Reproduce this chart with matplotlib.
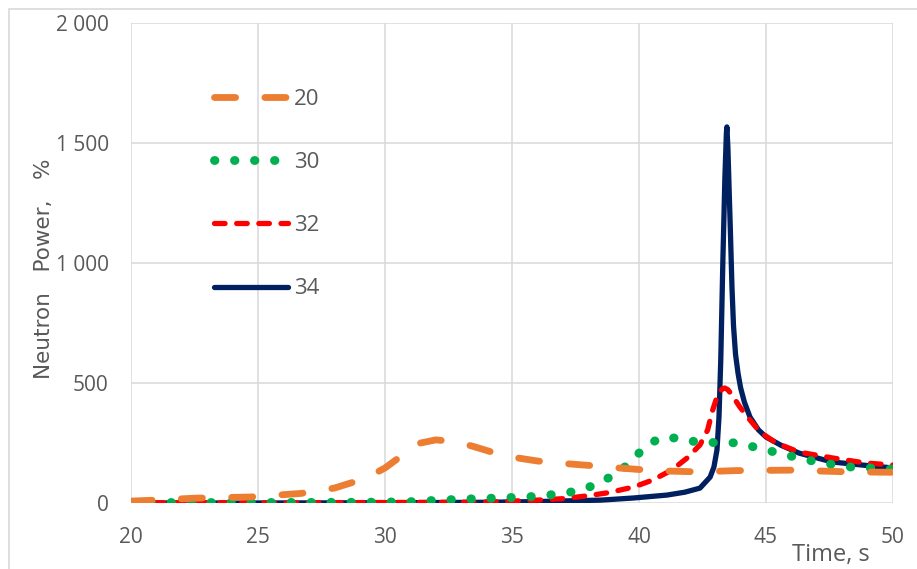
import matplotlib
matplotlib.use("Agg")
import matplotlib.pyplot as plt
from matplotlib.patches import Rectangle

# series "20" (orange, long dash)
t20 = [20, 21, 22.5, 24.7, 26.7, 28.0, 28.7, 29.4, 30.0, 30.5, 30.9, 31.4, 32.0, 32.8, 33.5, 34.4,
       35.2, 36.0, 37.0, 38.1, 39.2, 40.2, 41.2, 42.2, 43.0, 43.8, 45.0, 46.1, 47.2, 48.2, 49.0, 50]
p20 = [8, 12, 20, 25, 40, 62, 85, 112, 146, 185, 221, 250, 263, 255, 235, 206,
       188, 175, 165, 156, 146, 138, 133, 130, 132, 135, 136, 137, 133, 130, 129, 128]

# series "30" (green, dots)
t30 = [20, 25, 29, 30.9, 31.6, 32.6, 33.3, 34.2, 35.0, 35.8, 36.6, 37.4, 38.2, 38.9, 39.6, 40.15,
       40.8, 41.6, 42.4, 43.2, 43.9, 44.7, 45.5, 46.3, 47.0, 47.8, 48.6, 49.4, 50]
p30 = [2, 2, 3, 5, 9, 14, 17, 20, 23, 27, 35, 47, 72, 110, 162, 225,
       271, 271, 250, 253, 250, 229, 208, 187, 171, 158, 146, 146, 140]

# series "32" (red, short dash)
t32 = [20, 25, 30, 33, 34.2, 35.0, 36.0, 37.0, 37.9, 38.8, 39.8, 40.55, 41.3, 41.9, 42.4, 42.7,
       42.9, 43.07, 43.2, 43.3, 43.38, 43.5, 43.66, 43.97, 44.37, 44.76, 45.4, 46.3, 47.6, 48.9, 50]
p32 = [1, 1, 2, 3, 5, 8, 12, 18, 29, 43, 67, 96, 138, 188, 242, 304,
       387, 442, 466, 477, 479, 472, 450, 400, 346, 296, 250, 212, 188, 167, 158]

# series "34" (navy, solid)
t34 = [20, 25, 30, 34, 36, 38.5, 39.8, 41.1, 41.8, 42.4, 42.8, 42.95, 43.07, 43.15, 43.22, 43.3,
       43.38, 43.44, 43.46, 43.5, 43.55, 43.6, 43.66, 43.72, 43.8, 43.9, 44.0, 44.15, 44.37, 44.7,
       45.0, 45.6, 46.3, 47.0, 47.6, 48.8, 50]
p34 = [0, 0, 1, 3, 6, 12, 21, 33, 45, 62, 108, 150, 221, 360, 600, 1000,
       1350, 1540, 1567, 1480, 1300, 1125, 900, 740, 620, 540, 480, 420, 358, 305,
       275, 240, 208, 188, 171, 158, 146]

labels = ["20", "30", "32", "34"]
colors = ["#ED7D31", "#00B050", "#FF0000", "#002060"]

fig = plt.figure(figsize=(9.17, 5.69), dpi=100)
# chart area border
fig.patches.append(Rectangle((9 / 917, -0.1), 1.2, 1 - 9 / 569 + 0.1, transform=fig.transFigure,
                             fill=False, edgecolor="#D9D9D9", linewidth=1.2))
ax = fig.add_axes([131 / 917, 1 - 503 / 569, 762 / 917, 480 / 569])

l34, = ax.plot(t34, p34, color=colors[3], lw=3.8, solid_capstyle="round",
               solid_joinstyle="round", zorder=3)
l32, = ax.plot(t32, p32, color=colors[2], lw=3.8, linestyle=(0, (2.0, 2.2)),
               dash_capstyle="round", zorder=4)
l30, = ax.plot(t30, p30, color=colors[1], lw=6.4, linestyle=(0, (0.05, 2.2)),
               dash_capstyle="round", zorder=5)
l20, = ax.plot(t20, p20, color=colors[0], lw=4.9, linestyle=(0, (3.1, 4.3)),
               dash_capstyle="round", zorder=6)

ax.set_xlim(20, 50)
ax.set_ylim(0, 2000)
ax.set_xticks(range(20, 51, 5))
ax.set_yticks(range(0, 2001, 500))
ax.set_yticklabels(["0", "500", "1 000", "1 500", "2 000"])
ax.grid(True, color="#D9D9D9", linewidth=1.1)
ax.set_axisbelow(True)
for s in ax.spines.values():
    s.set_visible(False)
ax.tick_params(length=0, colors="#595959", labelsize=15)
ax.tick_params(axis="x", pad=17)
ax.tick_params(axis="y", pad=16)
for lab in ax.get_xticklabels() + ax.get_yticklabels():
    lab.set_fontfamily("Open Sans")

ax.set_ylabel("Neutron   Power,   %", fontsize=15.5, color="#595959", family="DejaVu Sans")
ax.yaxis.set_label_coords(-0.101, 0.487)
ax.text(0.919, -0.108, "Time, s", transform=ax.transAxes, ha="center", va="center",
        fontsize=17, color="#595959", family="Open Sans")

leg = ax.legend([l20, l30, l32, l34], labels, loc="upper left", bbox_to_anchor=(0.109, 0.863),
                frameon=False, borderaxespad=0, borderpad=0, handlelength=3.33,
                handletextpad=0.25, labelspacing=1.9, prop={"family": "Open Sans", "size": 16})
for txt in leg.get_texts():
    txt.set_color("#595959")

fig.savefig("out.png", dpi=100)
